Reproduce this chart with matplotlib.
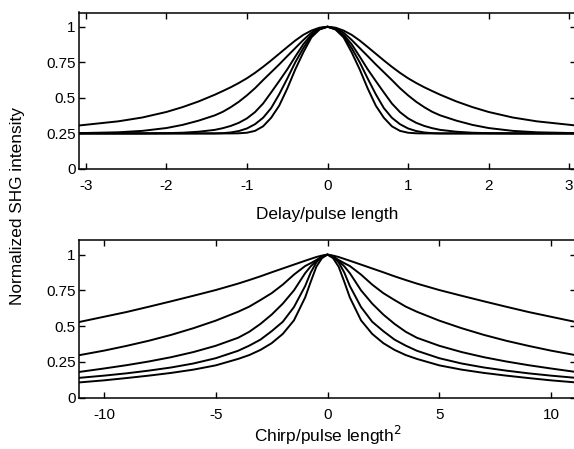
import numpy as np
import matplotlib
matplotlib.use("Agg")
import matplotlib.pyplot as plt

plt.rcParams['font.family'] = ['Liberation Sans', 'DejaVu Sans']
plt.rcParams['font.size'] = 11

# top panel: SHG vs delay (the curves are symmetric)
delay = [0, 0.1, 0.2, 0.3, 0.4, 0.5, 0.6, 0.7, 0.8, 0.9, 1.0, 1.1, 1.2, 1.3, 1.4,
         1.6, 1.8, 2.0, 2.3, 2.6, 3.1]
delay_curves = [
    [1, 0.993, 0.973, 0.943, 0.903, 0.857, 0.81, 0.763, 0.718, 0.676, 0.638, 0.605,
     0.575, 0.548, 0.522, 0.475, 0.435, 0.401, 0.362, 0.335, 0.305],
    [1, 0.99, 0.958, 0.907, 0.85, 0.793, 0.735, 0.68, 0.625, 0.568, 0.518, 0.473,
     0.435, 0.402, 0.377, 0.34, 0.31, 0.288, 0.268, 0.258, 0.252],
    [1, 0.985, 0.943, 0.877, 0.79, 0.7, 0.618, 0.538, 0.46, 0.4, 0.356, 0.325,
     0.303, 0.287, 0.275, 0.262, 0.255, 0.252, 0.25, 0.25, 0.25],
    [1, 0.983, 0.935, 0.85, 0.75, 0.635, 0.525, 0.428, 0.36, 0.315, 0.285, 0.267,
     0.257, 0.252, 0.25, 0.25, 0.25, 0.25, 0.25, 0.25, 0.25],
    [1, 0.98, 0.925, 0.82, 0.7, 0.565, 0.445, 0.36, 0.3, 0.268, 0.255, 0.251,
     0.25, 0.25, 0.25, 0.25, 0.25, 0.25, 0.25, 0.25, 0.25],
]

# bottom panel: SHG vs chirp, right half again
chirp = [0, 0.25, 0.5, 0.75, 1.0, 1.5, 2.0, 2.5, 3.0, 3.5, 4.0, 5.0, 6.0, 7.0, 8.0,
         9.0, 10.0, 11.15]
chirp_curves = [
    [1, 0.993, 0.983, 0.97, 0.957, 0.93, 0.903, 0.876, 0.848, 0.822, 0.797, 0.752,
     0.712, 0.673, 0.635, 0.598, 0.565, 0.527],
    [1, 0.985, 0.962, 0.94, 0.92, 0.86, 0.79, 0.73, 0.682, 0.636, 0.6, 0.538,
     0.485, 0.438, 0.397, 0.361, 0.328, 0.295],
    [1, 0.988, 0.955, 0.918, 0.87, 0.75, 0.657, 0.58, 0.515, 0.46, 0.418, 0.362,
     0.318, 0.282, 0.252, 0.226, 0.203, 0.178],
    [1, 0.985, 0.945, 0.875, 0.78, 0.633, 0.53, 0.464, 0.405, 0.363, 0.327, 0.275,
     0.238, 0.21, 0.188, 0.169, 0.153, 0.137],
    [1, 0.975, 0.915, 0.81, 0.7, 0.54, 0.445, 0.38, 0.333, 0.297, 0.27, 0.225,
     0.195, 0.172, 0.153, 0.136, 0.12, 0.105],
]


def mirror(xs, ys):
    xs = np.array(xs)
    ys = np.array(ys)
    return np.concatenate([-xs[:0:-1], xs]), np.concatenate([ys[:0:-1], ys])


fig = plt.figure(figsize=(5.74, 4.49), dpi=100)
left = 79 / 574
width = (576 - 79) / 574
ax1 = fig.add_axes([left, 1 - 169 / 449, width, 156.5 / 449])
ax2 = fig.add_axes([left, 1 - 397.5 / 449, width, 157.2 / 449])

for ys in delay_curves:
    xx, yy = mirror(delay, ys)
    ax1.plot(xx, yy, color='black', lw=1.4, solid_joinstyle='round')
for ys in chirp_curves:
    xx, yy = mirror(chirp, ys)
    ax2.plot(xx, yy, color='black', lw=1.4, solid_joinstyle='round')

ax1.set_xlim(-3.086, 3.086)
ax1.set_xticks([-3, -2, -1, 0, 1, 2, 3])
ax1.set_xticklabels(['-3', '-2', '-1', '0', '1', '2', '3'])
ax1.set_xlabel('Delay/pulse length', fontsize=12.4, labelpad=10)

ax2.set_xlim(-11.12, 11.12)
ax2.set_xticks([-10, -5, 0, 5, 10])
ax2.set_xticklabels(['-10', '-5', '0', '5', '10'])
ax2.set_xlabel('Chirp/pulse length$^2$', fontsize=12.4, labelpad=1.5)

for ax in (ax1, ax2):
    ax.set_ylim(0, 1.1)
    ax.set_yticks([0, 0.25, 0.5, 0.75, 1])
    ax.set_yticklabels(['0', '0.25', '0.5', '0.75', '1'])
    ax.tick_params(direction='in', top=True, right=True, length=4.5, width=1)
    ax.tick_params(axis='x', pad=7.5)
    ax.tick_params(axis='y', pad=2.5)
    for s in ax.spines.values():
        s.set_linewidth(1.1)

fig.text(0.03, 1 - 206 / 449, 'Normalized SHG intensity', rotation=90,
         ha='center', va='center', fontsize=12.4)

fig.savefig('out.png', dpi=100)
